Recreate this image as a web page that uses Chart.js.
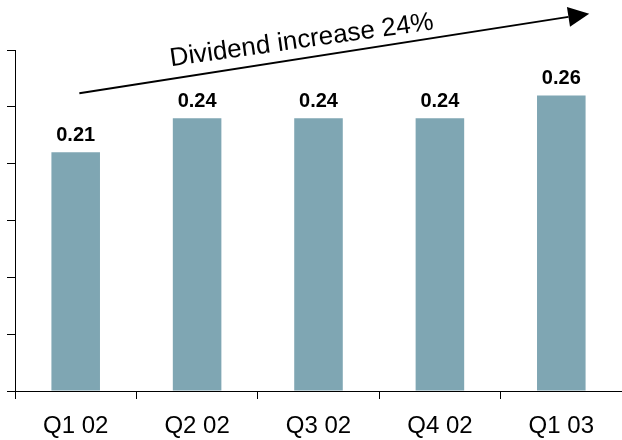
<!DOCTYPE html>
<html lang="en">
<head>
    <meta charset="UTF-8">
    <title>Quarterly Dividend</title>
    <script src="https://cdn.jsdelivr.net/npm/chart.js"></script>
    <style>
        body {
            margin: 0;
            background: #fff;
        }
        .wrap {
            width: 622px;
            height: 440px;
        }
    </style>
</head>
<body>
    <div class="wrap">
        <canvas id="dividendChart" width="622" height="440"></canvas>
    </div>

    <script>
        const quarters = ['Q1 02', 'Q2 02', 'Q3 02', 'Q4 02', 'Q1 03'];
        const dividends = [0.21, 0.24, 0.24, 0.24, 0.26];
        const trendText = 'Dividend increase 24%';

        // arrow and caption placed in data units (category index, dividend)
        const arrowFrom = [0.03, 0.262];
        const arrowTo = [4.23, 0.332];
        const captionAt = [1.87, 0.302];

        const fontFamily = "Arial, 'Liberation Sans', sans-serif";

        const valueLabels = {
            id: 'valueLabels',
            afterDatasetsDraw(chart) {
                const ctx = chart.ctx;
                const meta = chart.getDatasetMeta(0);
                ctx.save();
                ctx.fillStyle = '#000';
                ctx.font = 'bold 20px ' + fontFamily;
                ctx.textAlign = 'center';
                ctx.textBaseline = 'alphabetic';
                meta.data.forEach((bar, i) => {
                    ctx.fillText(dividends[i].toFixed(2), bar.x, bar.y - 11);
                });
                ctx.restore();
            }
        };

        const trendArrow = {
            id: 'trendArrow',
            afterDraw(chart) {
                const ctx = chart.ctx;
                const xs = chart.scales.x;
                const ys = chart.scales.y;
                const x1 = xs.getPixelForValue(arrowFrom[0]);
                const y1 = ys.getPixelForValue(arrowFrom[1]);
                const x2 = xs.getPixelForValue(arrowTo[0]);
                const y2 = ys.getPixelForValue(arrowTo[1]);
                const ang = Math.atan2(y2 - y1, x2 - x1);
                const headLen = 21;
                const headHalf = 10;

                ctx.save();
                ctx.strokeStyle = '#000';
                ctx.fillStyle = '#000';
                ctx.lineWidth = 2;
                ctx.beginPath();
                ctx.moveTo(x1, y1);
                ctx.lineTo(x2 - headLen * Math.cos(ang), y2 - headLen * Math.sin(ang));
                ctx.stroke();

                const bx = x2 - headLen * Math.cos(ang);
                const by = y2 - headLen * Math.sin(ang);
                ctx.beginPath();
                ctx.moveTo(x2, y2);
                ctx.lineTo(bx + headHalf * Math.sin(ang), by - headHalf * Math.cos(ang));
                ctx.lineTo(bx - headHalf * Math.sin(ang), by + headHalf * Math.cos(ang));
                ctx.closePath();
                ctx.fill();

                // caption runs a little flatter than the arrow
                const cx = xs.getPixelForValue(captionAt[0]);
                const cy = ys.getPixelForValue(captionAt[1]);
                ctx.translate(cx, cy);
                ctx.rotate(-8 * Math.PI / 180);
                ctx.font = '26px ' + fontFamily;
                ctx.textAlign = 'center';
                ctx.textBaseline = 'alphabetic';
                ctx.fillText(trendText, 0, 0);
                ctx.restore();
            }
        };

        new Chart(document.getElementById('dividendChart'), {
            type: 'bar',
            data: {
                labels: quarters,
                datasets: [{
                    data: dividends,
                    backgroundColor: '#7fa6b3',
                    barPercentage: 0.4,
                    categoryPercentage: 1
                }]
            },
            options: {
                responsive: false,
                animation: false,
                layout: {
                    padding: { top: 50, left: 7, right: 0, bottom: 0 }
                },
                plugins: {
                    legend: { display: false },
                    tooltip: { enabled: false }
                },
                scales: {
                    x: {
                        afterFit(scale) {
                            scale.height = 49;
                        },
                        grid: {
                            offset: true,
                            drawOnChartArea: false,
                            drawTicks: true,
                            tickLength: 8,
                            color: '#000'
                        },
                        border: { color: '#000', width: 1 },
                        ticks: {
                            color: '#000',
                            padding: 13,
                            font: { family: fontFamily, size: 24 }
                        }
                    },
                    y: {
                        min: 0,
                        max: 0.3,
                        grid: {
                            drawOnChartArea: false,
                            drawTicks: true,
                            tickLength: 8,
                            color: '#000'
                        },
                        border: { color: '#000', width: 1 },
                        ticks: {
                            display: false,
                            stepSize: 0.05
                        }
                    }
                }
            },
            plugins: [valueLabels, trendArrow]
        });
    </script>
</body>
</html>
